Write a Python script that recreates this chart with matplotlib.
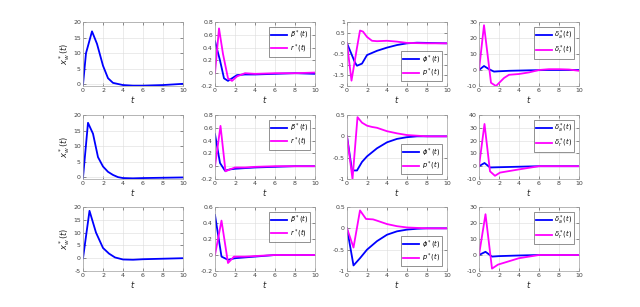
import numpy as np
import matplotlib.pyplot as plt

# ---- data (three scenarios, rows) ----
# column 1: x_w
t_xw = [[0, 0.3, 0.9, 1.4, 2, 2.5, 3, 4, 5, 6, 7, 8, 9, 10],
        [0, 0.5, 1, 1.5, 2, 2.5, 3, 3.5, 4, 5, 6, 8, 10],
        [0, 0.65, 1.3, 2, 2.6, 3.2, 4, 5, 6, 8, 10]]
xw = [[0, 10, 17, 13, 6, 2, 0.5, -0.2, -0.4, -0.4, -0.3, -0.2, 0, 0.2],
      [0, 17.5, 14, 6.5, 3.5, 1.8, 0.8, 0.1, -0.2, -0.3, -0.2, -0.1, 0],
      [0, 18.5, 10, 4, 1.8, 0.3, -0.5, -0.6, -0.4, -0.2, 0]]

# column 2: beta, r
t_beta = [[0, 0.5, 0.9, 1.3, 1.7, 2.2, 3, 4, 6, 8, 10],
          [0, 0.5, 1, 1.5, 2, 3, 4, 6, 8, 10],
          [0, 0.65, 1.3, 2, 4, 6, 10]]
beta = [[0.5, 0.2, -0.08, -0.12, -0.08, -0.03, -0.02, -0.02, -0.01, 0, -0.01],
        [0.5, 0.05, -0.07, -0.05, -0.04, -0.03, -0.02, -0.01, 0, 0],
        [0.5, -0.02, -0.06, -0.04, -0.02, 0, 0]]
t_r = [[0, 0.4, 0.8, 1.3, 1.7, 2.2, 3, 4, 6, 8, 10],
       [0, 0.55, 1.05, 1.5, 2, 3, 4, 6, 10],
       [0, 0.65, 1.3, 1.9, 3, 6, 10]]
r = [[0, 0.7, 0.3, -0.08, -0.12, -0.05, 0, -0.01, 0, 0, 0.01],
     [0, 0.63, -0.08, -0.05, -0.02, -0.02, -0.01, 0, 0],
     [0, 0.43, -0.1, -0.02, -0.02, 0, 0]]

# column 3: phi, p
t_phi = [[0, 0.8, 1.0, 1.5, 2, 3, 4, 5, 6, 7, 8, 10],
         [0, 0.5, 1, 1.5, 2, 3, 4, 5, 6, 7, 8, 10],
         [0, 0.65, 1.3, 2, 3, 4, 5, 6, 7, 8, 10]]
phi = [[0, -0.9, -1.05, -0.95, -0.55, -0.35, -0.2, -0.08, 0, 0.03, 0.02, 0],
       [0, -0.8, -0.8, -0.6, -0.47, -0.28, -0.14, -0.06, -0.02, 0, 0, 0],
       [0, -0.87, -0.7, -0.5, -0.3, -0.15, -0.07, -0.03, -0.01, 0, 0]]
t_p = [[0, 0.45, 1.0, 1.3, 1.6, 2, 2.5, 3, 4, 5, 6, 8, 10],
       [0, 0.55, 1.05, 1.5, 2, 2.5, 3, 4, 5, 6, 8, 10],
       [0, 0.65, 1.3, 1.9, 2.6, 3, 4, 5, 6, 8, 10]]
p = [[0, -1.75, -0.2, 0.6, 0.55, 0.3, 0.12, 0.1, 0.12, 0.08, 0.02, 0, 0],
     [0, -1, 0.45, 0.32, 0.25, 0.22, 0.2, 0.12, 0.07, 0.03, 0, 0],
     [0, -0.45, 0.42, 0.22, 0.21, 0.18, 0.1, 0.05, 0.02, 0, 0]]

# column 4: delta_a, delta_r
t_da = [[0, 0.5, 1, 1.5, 2, 3, 5, 7, 10],
        [0, 0.55, 1.1, 2, 4, 6, 10],
        [0, 0.65, 1.3, 2, 4, 6, 10]]
da = [[0, 2.5, 0.5, -1, -0.8, -0.5, -0.2, 0, 0],
      [0, 2.5, -1, -0.8, -0.4, 0, 0],
      [0, 2, -1, -0.7, -0.3, 0, 0]]
t_dr = [[0, 0.5, 1.2, 1.7, 2.5, 3, 4, 5, 6, 7, 8, 9, 10],
        [0, 0.55, 1.1, 1.6, 2.1, 4, 6, 8, 10],
        [0, 0.65, 1.3, 1.9, 4, 6, 10]]
dr = [[0, 28, -8, -10, -5, -3, -2.5, -1.5, 0, 0.5, 0.5, 0.3, -0.5],
      [0, 33, -4, -7.5, -5, -2.5, 0, 0, 0],
      [0, 25.5, -8.5, -6, -2, 0, 0]]

ylims = [[(-0.5, 20), (-0.2, 0.8), (-2, 1), (-10, 30)],
         [(-0.5, 20), (-0.2, 0.8), (-1, 0.5), (-10, 40)],
         [(-5, 20), (-0.2, 0.6), (-1, 0.5), (-10, 30)]]
yticks = [[[0, 5, 10, 15, 20], [-0.2, 0, 0.2, 0.4, 0.6, 0.8], [-2, -1.5, -1, -0.5, 0, 0.5, 1], [-10, 0, 10, 20, 30]],
          [[0, 5, 10, 15, 20], [-0.2, 0, 0.2, 0.4, 0.6, 0.8], [-1, -0.5, 0, 0.5], [-10, 0, 10, 20, 30, 40]],
          [[-5, 0, 5, 10, 15, 20], [-0.2, 0, 0.2, 0.4, 0.6], [-1, -0.5, 0, 0.5], [-10, 0, 10, 20, 30]]]

blue = '#0000ff'
mag = '#ff00ff'

W, H = 640, 307
fig = plt.figure(figsize=(6.4, 3.07), dpi=100)

lefts = [83, 215, 347, 479]
tops = [22, 115, 207]
aw, ah = 100, 64

for i in range(3):
    for j in range(4):
        ax = fig.add_axes([lefts[j] / W, 1 - (tops[i] + ah) / H, aw / W, ah / H])
        if j == 0:
            ax.plot(t_xw[i], xw[i], color=blue, lw=1.3)
            ax.set_ylabel(r'$x_w^*(t)$', fontsize=6, labelpad=1, color='#262626')
        elif j == 1:
            ax.plot(t_beta[i], beta[i], color=blue, lw=1.3, label=r'$\beta^*(t)$')
            ax.plot(t_r[i], r[i], color=mag, lw=1.3, label=r'$r^*(t)$')
        elif j == 2:
            ax.plot(t_phi[i], phi[i], color=blue, lw=1.3, label=r'$\phi^*(t)$')
            ax.plot(t_p[i], p[i], color=mag, lw=1.3, label=r'$p^*(t)$')
        else:
            ax.plot(t_da[i], da[i], color=blue, lw=1.3, label=r'$\delta_a^*(t)$')
            ax.plot(t_dr[i], dr[i], color=mag, lw=1.3, label=r'$\delta_r^*(t)$')
        ax.set_xlim(0, 10)
        ax.set_ylim(*ylims[i][j])
        ax.set_xticks([0, 2, 4, 6, 8, 10])
        ax.set_yticks(yticks[i][j])
        ax.set_yticklabels(['%g' % v for v in yticks[i][j]])
        ax.tick_params(labelsize=4.5, length=2, width=0.4, direction='in',
                       colors='#404040', pad=1.5, top=True, right=True)
        ax.grid(True, color='#dcdcdc', lw=0.4)
        ax.set_axisbelow(True)
        for s in ax.spines.values():
            s.set_color('#a0a0a0')
            s.set_linewidth(0.5)
        ax.set_xlabel(r'$t$', fontsize=6, labelpad=1, color='#262626')
        if j > 0:
            loc = 'lower right' if j == 2 else 'upper right'
            leg = ax.legend(loc=loc, fontsize=4.8, handlelength=2.4, borderpad=0.3,
                            labelspacing=0.2, handletextpad=0.4, fancybox=False,
                            borderaxespad=0.7)
            leg.get_frame().set_edgecolor('#404040')
            leg.get_frame().set_linewidth(0.5)

fig.savefig('out.png', dpi=100)
